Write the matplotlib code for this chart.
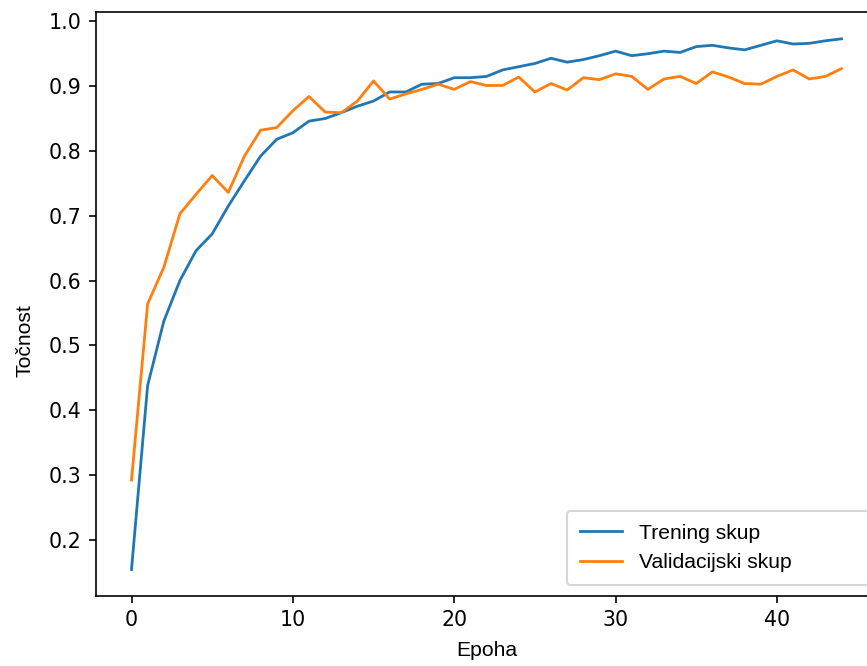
import matplotlib
matplotlib.use("Agg")
import matplotlib.pyplot as plt
from matplotlib.ticker import MultipleLocator

plt.rcParams['font.family'] = ['DejaVu Sans']

epochs = list(range(45))
train_acc = [0.154, 0.438, 0.537, 0.600, 0.646, 0.672, 0.715, 0.754, 0.792, 0.818,
             0.828, 0.846, 0.850, 0.859, 0.869, 0.877, 0.891, 0.891, 0.903, 0.904,
             0.913, 0.913, 0.915, 0.925, 0.930, 0.935, 0.943, 0.937, 0.941, 0.947,
             0.954, 0.947, 0.950, 0.954, 0.952, 0.961, 0.963, 0.959, 0.956, 0.963,
             0.970, 0.965, 0.966, 0.970, 0.973]
val_acc = [0.292, 0.564, 0.620, 0.703, 0.733, 0.762, 0.736, 0.792, 0.832, 0.836,
           0.862, 0.884, 0.860, 0.859, 0.877, 0.908, 0.880, 0.888, 0.895, 0.903,
           0.895, 0.907, 0.901, 0.901, 0.914, 0.891, 0.904, 0.894, 0.913, 0.910,
           0.919, 0.915, 0.895, 0.911, 0.915, 0.904, 0.922, 0.914, 0.904, 0.903,
           0.915, 0.925, 0.911, 0.915, 0.927]

W, H = 867, 666
dpi = 148
fig = plt.figure(figsize=(W / dpi, H / dpi), dpi=dpi)
left, right, top, bottom = 96, 877, 12.3, 596
aw, ah = right - left, bottom - top
ax = fig.add_axes([left / W, 1 - bottom / H, aw / W, ah / H])

ax.plot(epochs, train_acc, label='Trening skup', linewidth=1.35)
ax.plot(epochs, val_acc, label='Validacijski skup', linewidth=1.35)
ax.yaxis.set_major_locator(MultipleLocator(0.1))
lab_font = ['Liberation Sans', 'DejaVu Sans']
ax.set_xlabel('Epoha', family=lab_font, fontsize=10.3, labelpad=5)
ax.set_ylabel('Točnost', family=lab_font, fontsize=10.3, labelpad=7)
ax.yaxis.label.set_y((bottom - 340.8) / ah)

lx0, lx1, ly0 = 567, 869, 585
ax.legend(loc='lower left',
          bbox_to_anchor=((lx0 - left) / aw, (bottom - ly0) / ah, (lx1 - lx0) / aw, 0.1),
          mode='expand', borderaxespad=0, borderpad=0.6,
          prop={'family': lab_font, 'size': 10.3})

fig.savefig('out.png', dpi=dpi)
